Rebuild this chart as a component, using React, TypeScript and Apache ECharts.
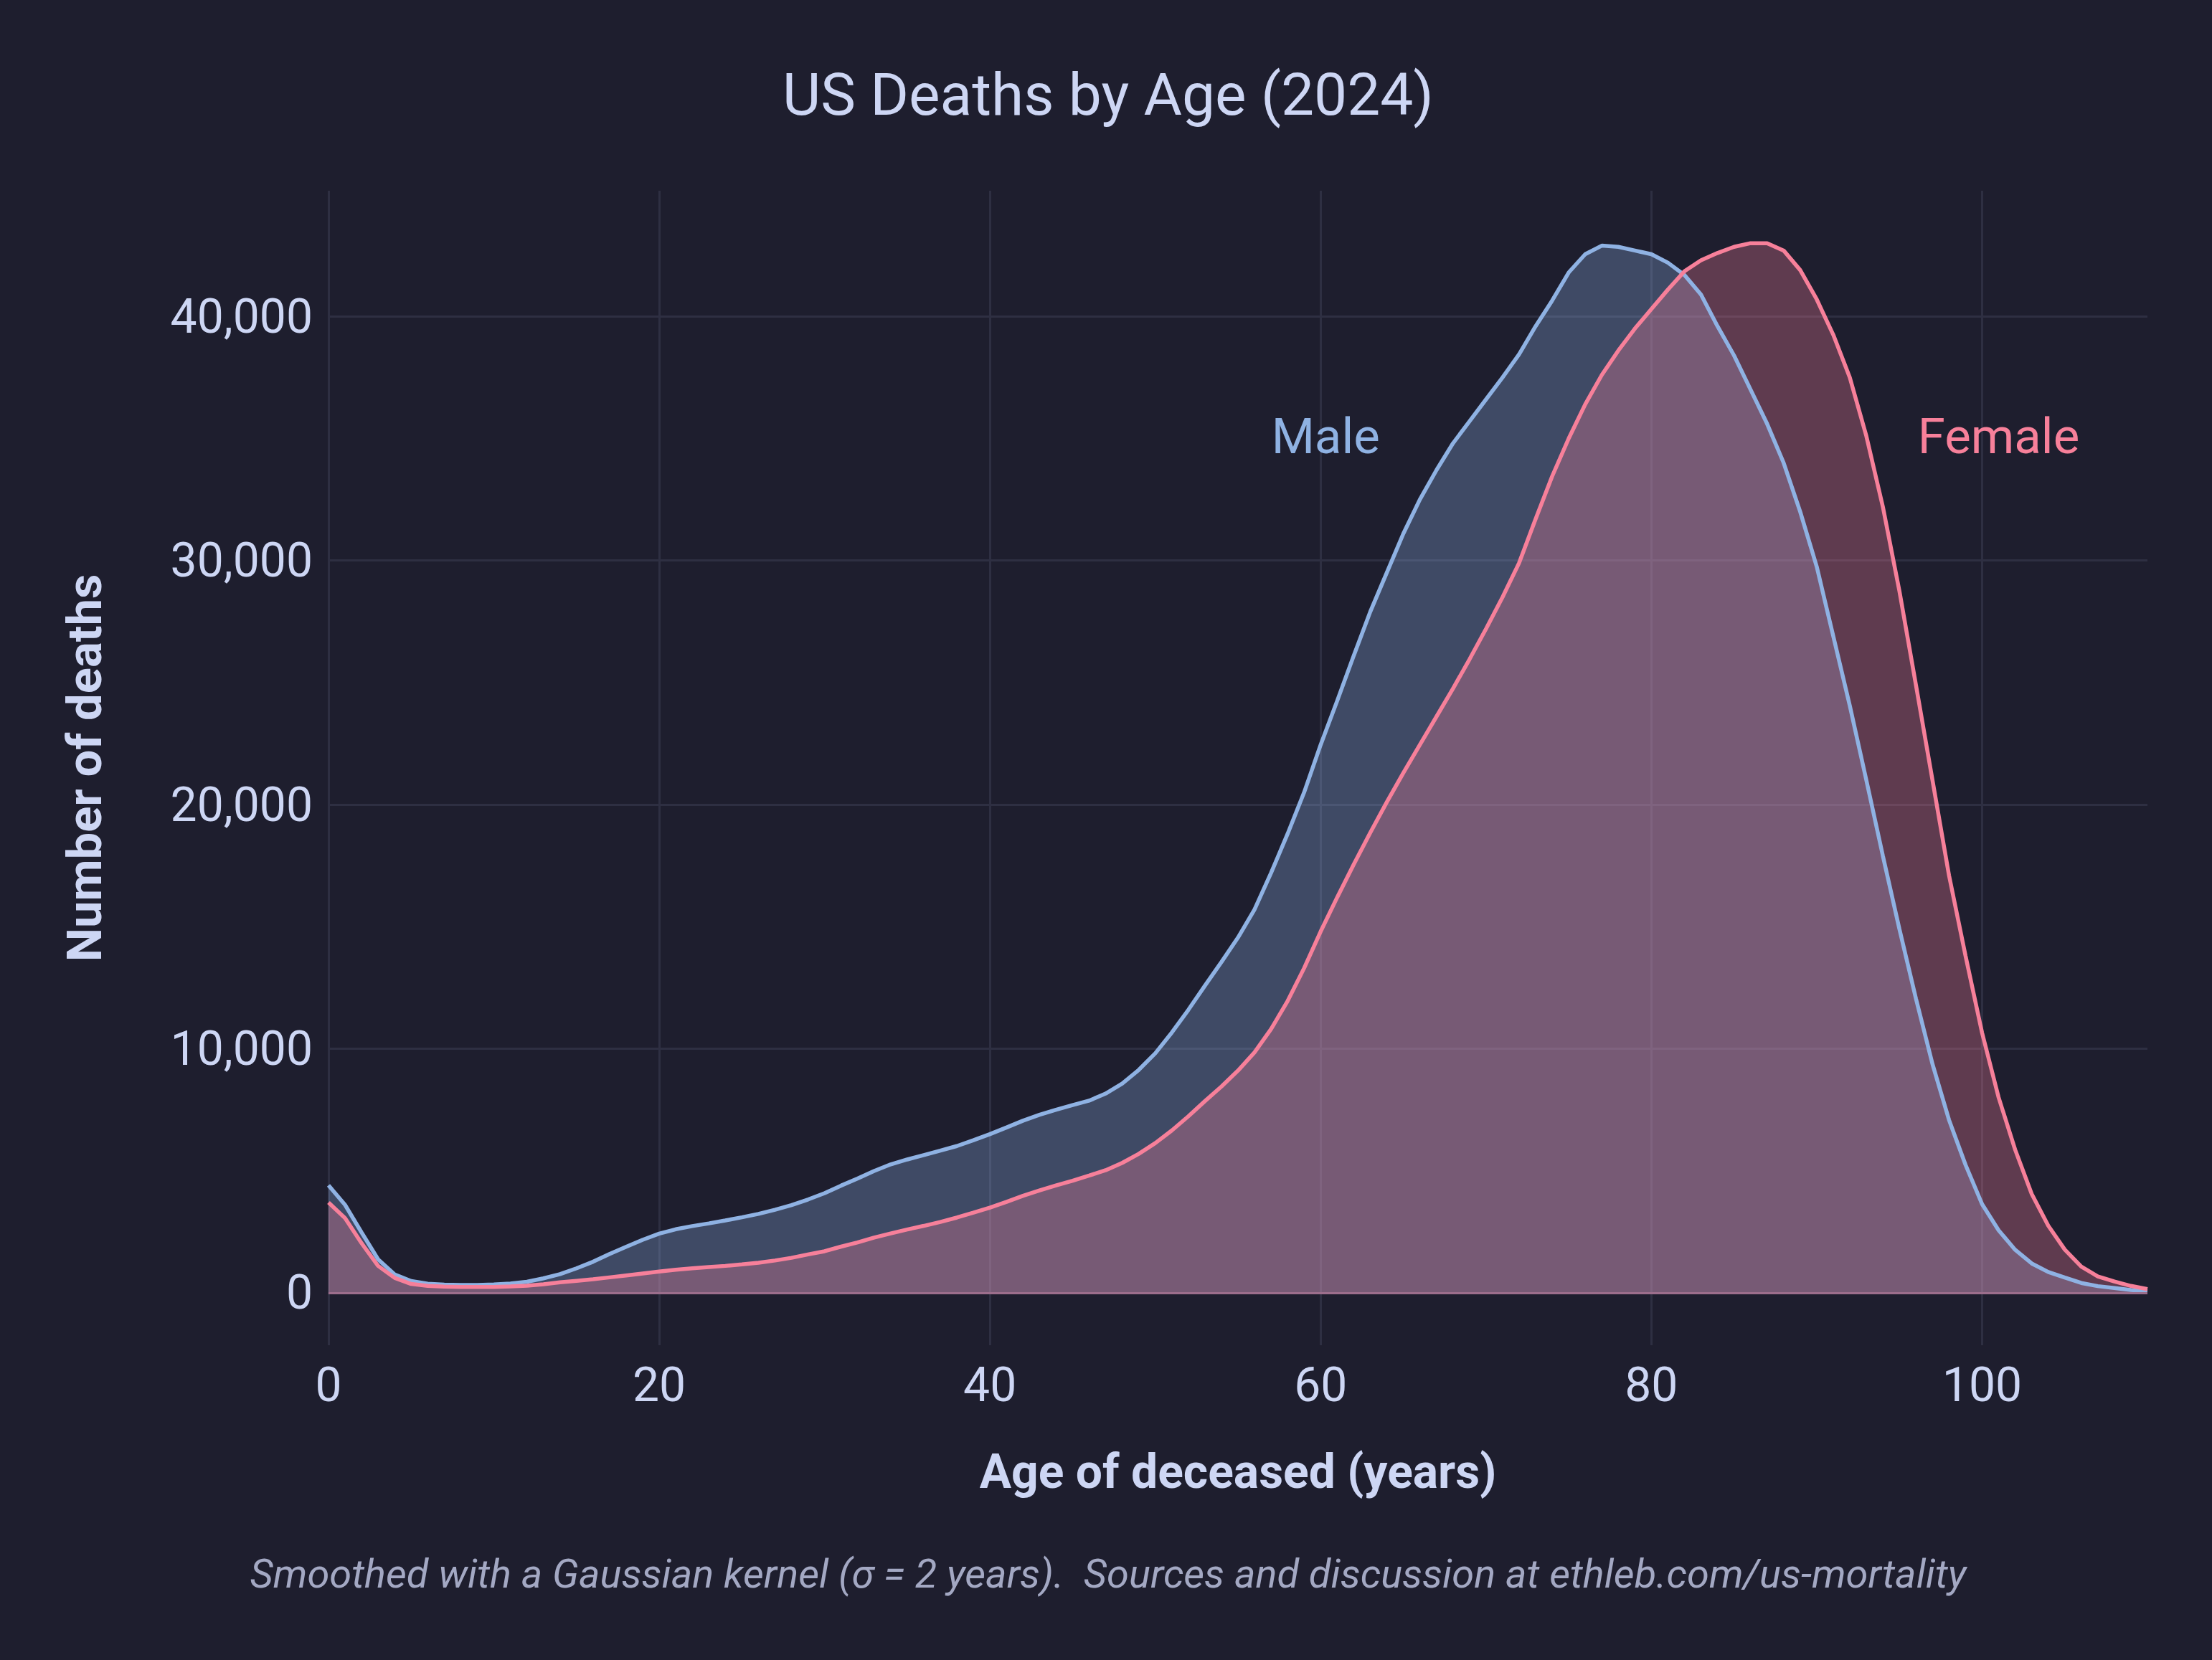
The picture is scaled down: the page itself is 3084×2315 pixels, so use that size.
import React, { useEffect, useRef } from "react";
import * as echarts from "echarts";

// Age (years) of first value; one value per year of age
const FIRST_AGE = 0;

// Number of deaths by single year of age (smoothed)
const maleDeaths = [
  4400, 3600, 2470, 1370, 750, 480, 370, 330, 320, 320,
  340, 380, 450, 590, 760, 1000, 1270, 1590, 1880, 2170,
  2420, 2600, 2730, 2840, 2960, 3090, 3230, 3400, 3590, 3820,
  4080, 4390, 4680, 4990, 5260, 5460, 5640, 5820, 6010, 6250,
  6500, 6770, 7050, 7290, 7500, 7690, 7870, 8160, 8570, 9130,
  9810, 10660, 11590, 12580, 13550, 14550, 15700, 17200, 18800, 20500,
  22450, 24250, 26100, 27900, 29500, 31100, 32500, 33700, 34800, 35700,
  36600, 37500, 38450, 39600, 40650, 41800, 42550, 42900, 42850, 42700,
  42550, 42200, 41700, 40900, 39600, 38400, 37000, 35600, 34000, 32000,
  29750, 26900, 24050, 21000, 17900, 14900, 12050, 9370, 7080, 5240,
  3630, 2560, 1760, 1200, 850, 620, 400, 270, 190, 110,
  60,
];

const femaleDeaths = [
  3700, 3060, 2030, 1100, 610, 360, 280, 250, 240, 240,
  240, 260, 290, 350, 430, 490, 550, 630, 710, 790,
  870, 940, 1000, 1050, 1100, 1160, 1230, 1320, 1430, 1570,
  1700, 1890, 2060, 2260, 2430, 2590, 2740, 2900, 3080, 3280,
  3490, 3720, 3970, 4190, 4400, 4590, 4800, 5020, 5320, 5690,
  6130, 6650, 7230, 7850, 8450, 9100, 9850, 10800, 11950, 13300,
  14800, 16200, 17550, 18850, 20100, 21300, 22450, 23600, 24750, 25950,
  27200, 28500, 29900, 31700, 33450, 35000, 36400, 37600, 38600, 39500,
  40300, 41100, 41850, 42300, 42600, 42850, 43000, 43000, 42700, 41900,
  40700, 39250, 37500, 35100, 32200, 28750, 24900, 21000, 17100, 13800,
  10650, 8000, 5860, 4050, 2750, 1770, 1070, 670, 460, 280,
  150,
];

const seriesNames = ["Male", "Female"];
const labelAnchors = [
  [60.3, 35100],
  [101.0, 35100],
];

const TITLE = "US Deaths by Age (2024)";
const X_TITLE = "Age of deceased (years)";
const Y_TITLE = "Number of deaths";
const CAPTION =
  "Smoothed with a Gaussian kernel (σ = 2 years).  Sources and discussion at ethleb.com/us-mortality";

const BG = "#1e1e2e";
const TEXT = "#cdd6f4";
const SUBTEXT = "#a3a8c3";
const GRID = "#2e2f42";
const MALE = "#8fb2e3";
const FEMALE = "#f7809a";
const FONT = "Roboto";

const toPairs = (vals: number[]) => vals.map((v, i) => [FIRST_AGE + i, v]);

export default function App() {
  const ref = useRef<HTMLDivElement>(null);

  useEffect(() => {
    if (!ref.current) return;
    const chart = echarts.init(ref.current, undefined, { renderer: "svg" });

    const areaSeries = (name: string, vals: number[], color: string, z: number) => ({
      name: name + " area",
      type: "line",
      data: toPairs(vals),
      showSymbol: false,
      symbol: "none",
      smooth: false,
      z,
      silent: true,
      lineStyle: { width: 0, opacity: 0 },
      areaStyle: { color, opacity: 0.3 },
    });

    const lineSeries = (name: string, vals: number[], color: string, anchor: number[], z: number) => ({
      name,
      type: "line",
      data: toPairs(vals),
      showSymbol: false,
      symbol: "none",
      smooth: false,
      z,
      lineStyle: { color, width: 5.5 },
      markPoint: {
        symbol: "circle",
        symbolSize: 0,
        silent: true,
        data: [{ coord: anchor, value: name }],
        label: {
          show: true,
          position: "inside",
          formatter: name,
          color,
          fontSize: 69,
          fontFamily: FONT,
        },
      },
    });

    const option: any = {
      animation: false,
      backgroundColor: BG,
      grid: { left: 458, right: 90, top: 266, bottom: 439, containLabel: false },
      xAxis: {
        type: "value",
        min: 0,
        max: 110,
        interval: 20,
        axisLine: { show: false },
        axisTick: { show: false },
        axisLabel: {
          color: TEXT,
          fontSize: 66,
          fontFamily: FONT,
          margin: 22,
          showMaxLabel: false,
        },
        splitLine: { show: true, showMaxLine: false, lineStyle: { color: GRID, width: 3 } },
      },
      yAxis: {
        type: "value",
        min: -2150,
        max: 45150,
        splitNumber: 5,
        axisLine: { show: false },
        axisTick: { show: false },
        axisLabel: {
          color: TEXT,
          fontSize: 66,
          fontFamily: FONT,
          margin: 22,
          showMinLabel: false,
          showMaxLabel: false,
          formatter: (v: number) => (v % 10000 === 0 ? v.toLocaleString("en-US") : ""),
        },
        splitLine: {
          show: true,
          showMinLine: false,
          showMaxLine: false,
          lineStyle: { color: GRID, width: 3 },
        },
      },
      series: [
        areaSeries(seriesNames[0], maleDeaths, MALE, 2),
        {
          ...areaSeries(seriesNames[1], femaleDeaths, FEMALE, 3),
          markLine: {
            silent: true,
            symbol: "none",
            label: { show: false },
            lineStyle: { color: "#9c6e8c", width: 3, type: "solid" },
            data: [{ yAxis: 0 }],
          },
        },
        lineSeries(seriesNames[0], maleDeaths, MALE, labelAnchors[0], 4),
        lineSeries(seriesNames[1], femaleDeaths, FEMALE, labelAnchors[1], 5),
      ],
      graphic: [
        {
          type: "text",
          x: 1545,
          y: 132,
          style: {
            text: TITLE,
            fill: TEXT,
            fontSize: 82,
            fontFamily: FONT,
            align: "center",
            verticalAlign: "middle",
          },
        },
        {
          type: "text",
          x: 1726,
          y: 2052,
          style: {
            text: X_TITLE,
            fill: TEXT,
            fontSize: 66,
            fontWeight: "bold",
            fontFamily: FONT,
            align: "center",
            verticalAlign: "middle",
          },
        },
        {
          type: "text",
          x: 118,
          y: 1071,
          rotation: Math.PI / 2,
          style: {
            text: Y_TITLE,
            fill: TEXT,
            fontSize: 67,
            fontWeight: "bold",
            fontFamily: FONT,
            align: "center",
            verticalAlign: "middle",
          },
        },
        {
          type: "text",
          x: 1545,
          y: 2195,
          style: {
            text: CAPTION,
            fill: SUBTEXT,
            fontSize: 56,
            fontStyle: "italic",
            fontFamily: FONT,
            align: "center",
            verticalAlign: "middle",
          },
        },
      ],
    };

    chart.setOption(option);
    return () => chart.dispose();
  }, []);

  return (
    <div
      ref={ref}
      style={{ position: "fixed", left: 0, top: 0, width: 3084, height: 2315, background: BG }}
    />
  );
}
